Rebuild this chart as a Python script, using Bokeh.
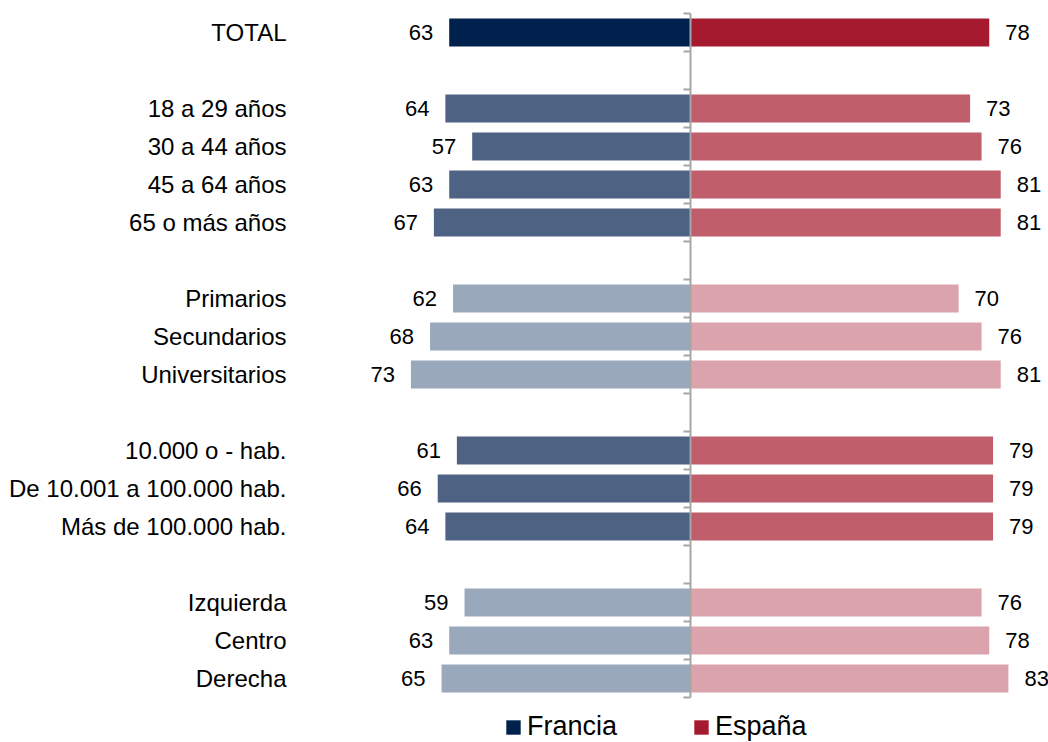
from bokeh.plotting import figure
from bokeh.models import Range1d, ColumnDataSource, Legend, LegendItem
from bokeh.core.properties import value
from bokeh.embed import file_html
from bokeh.resources import INLINE

# ---- data ----
categories = ["TOTAL",
              "18 a 29 años", "30 a 44 años", "45 a 64 años", "65 o más años",
              "Primarios", "Secundarios", "Universitarios",
              "10.000 o - hab.", "De 10.001 a 100.000 hab.", "Más de 100.000 hab.",
              "Izquierda", "Centro", "Derecha"]
group = [0, 1, 1, 1, 1, 2, 2, 2, 3, 3, 3, 4, 4, 4]
francia = [63, 64, 57, 63, 67, 62, 68, 73, 61, 66, 64, 59, 63, 65]
espana = [78, 73, 76, 81, 81, 70, 76, 81, 79, 79, 79, 76, 78, 83]
series_names = ["Francia", "España"]

# ---- styles ----
FR_COLORS = {"total": "#00214e", "dark": "#4e6384", "light": "#9aa8bb"}
ES_COLORS = {"total": "#a61a30", "dark": "#c05e6b", "light": "#dba3ab"}
group_shade = ["total", "dark", "light", "dark", "light"]
FONT = "Liberation Sans"

# row positions: one blank row between groups
rows = []
r = -1
for i, g in enumerate(group):
    r += 2 if (i > 0 and g != group[i - 1]) else 1
    rows.append(r)
n_rows = rows[-1] + 1

W, H = 1048, 742
CX = 690          # center pixel
PX_PER_UNIT = 3.83
ROW_PX = 38
TOP_PX = 32

p = figure(width=W, height=H, output_backend="svg", toolbar_location=None,
           x_axis_type=None, y_axis_type=None, min_border=0,
           x_range=Range1d(-CX / PX_PER_UNIT, (W - CX) / PX_PER_UNIT),
           y_range=Range1d((H - TOP_PX) / ROW_PX, -TOP_PX / ROW_PX))
p.outline_line_color = None
p.xgrid.visible = False
p.ygrid.visible = False
p.background_fill_color = "white"
p.border_fill_color = "white"

bar_h = 28 / ROW_PX
legend_renderers = {}
for shade in ["total", "dark", "light"]:
    idx = [i for i in range(len(categories)) if group_shade[group[i]] == shade]
    src = ColumnDataSource(dict(
        y=[rows[i] for i in idx],
        fr=[-francia[i] for i in idx],
        es=[espana[i] for i in idx],
    ))
    rf = p.hbar(y="y", left="fr", right=0, height=bar_h, source=src,
                fill_color=FR_COLORS[shade], line_color=None)
    re_ = p.hbar(y="y", left=0, right="es", height=bar_h, source=src,
                 fill_color=ES_COLORS[shade], line_color=None)
    if shade == "total":
        legend_renderers["Francia"] = rf
        legend_renderers["España"] = re_

# center axis with ticks at row boundaries
AX_COLOR = "#a6a6a6"
p.segment(x0=[0], x1=[0], y0=[-0.5], y1=[n_rows - 0.5], line_color=AX_COLOR, line_width=2)
bounds = [b - 0.5 for b in range(n_rows + 1)]
tick_len = 7 / PX_PER_UNIT
p.segment(x0=[-tick_len] * len(bounds), x1=[0] * len(bounds), y0=bounds, y1=bounds,
          line_color=AX_COLOR, line_width=2)

# labels
lab = ColumnDataSource(dict(
    y=rows, cat=categories,
    fr=[-v for v in francia], es=espana,
    frt=[str(v) for v in francia], est=[str(v) for v in espana],
))
p.text(x=0, y="y", text="cat", source=lab, x_offset=-(CX - 286),
       text_align="right", text_baseline="middle", text_font=value(FONT),
       text_font_size="24px", text_color="#000000")
p.text(x="fr", y="y", text="frt", source=lab, x_offset=-16,
       text_align="right", text_baseline="middle", text_font=value(FONT),
       text_font_size="22px", text_color="#000000")
p.text(x="es", y="y", text="est", source=lab, x_offset=16,
       text_align="left", text_baseline="middle", text_font=value(FONT),
       text_font_size="22px", text_color="#000000")

legend = Legend(items=[LegendItem(label=n, renderers=[legend_renderers[n]]) for n in series_names],
                orientation="horizontal", location=(504, 0),
                glyph_width=18, glyph_height=18, label_standoff=5, spacing=75,
                padding=0, margin=0, border_line_color=None, background_fill_alpha=0,
                label_text_font=FONT, label_text_font_size="27px", label_text_color="#000000")
p.add_layout(legend)

open("out.html", "w").write(file_html(p, INLINE))
